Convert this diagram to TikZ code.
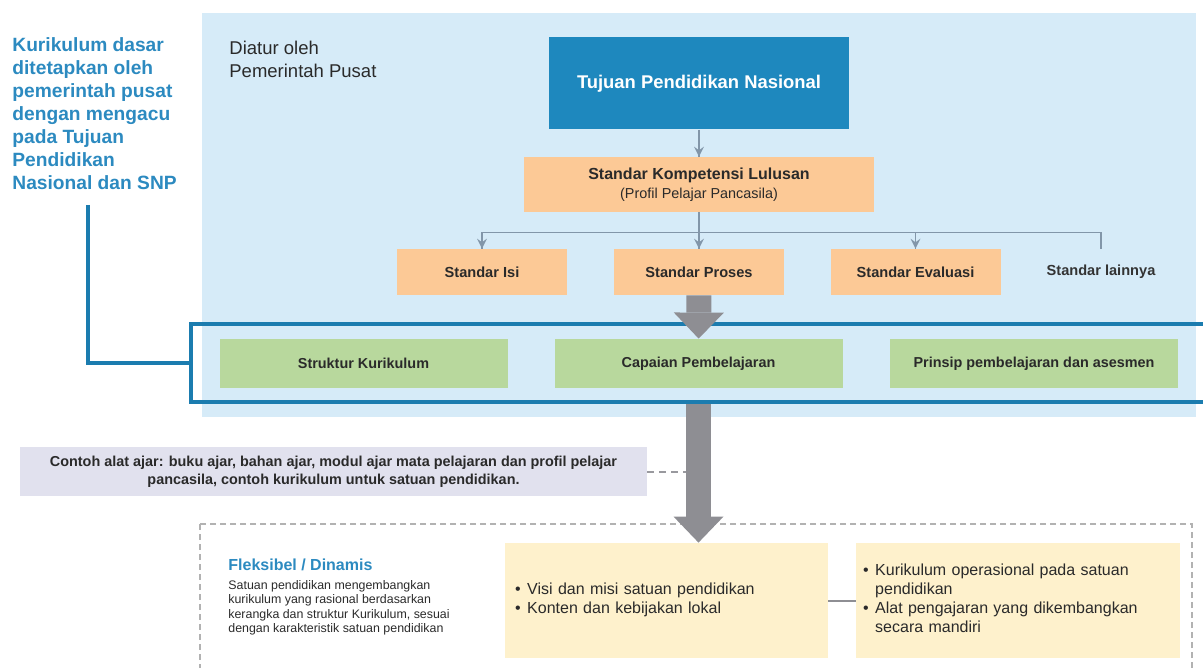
\documentclass[tikz,border=0pt]{standalone}
\usepackage{fontspec}
\setmainfont{Liberation Sans}
\usetikzlibrary{arrows.meta,decorations.markings}
\definecolor{langit}{HTML}{D6EBF8}
\definecolor{birutua}{HTML}{1E88BE}
\definecolor{bingkai}{HTML}{1B7CAF}
\definecolor{birujudul}{HTML}{2C8AC0}
\definecolor{oranye}{HTML}{FCC996}
\definecolor{hijau}{HTML}{B8D89D}
\definecolor{ungu}{HTML}{E1E1EE}
\definecolor{kuning}{HTML}{FEF1CC}
\definecolor{abu}{HTML}{8E8E93}
\definecolor{garis}{HTML}{8296A9}
\definecolor{tinta}{HTML}{2A2A2A}
\tikzset{->/.style = {decoration={markings, mark=at position 1 with {\arrow[scale=1.2]{stealth}}}, postaction={decorate}}}
\tikzset{standar/.style = {fill=oranye, text=tinta, font=\fontsize{7.3}{9}\selectfont\bfseries, minimum width=85pt, minimum height=23pt, inner sep=0}}
\tikzset{capaianbox/.style = {fill=hijau, text=tinta, font=\fontsize{7.2}{9}\selectfont\bfseries, minimum width=144pt, minimum height=24.5pt, inner sep=0}}
\tikzset{butirbox/.style = {fill=kuning, text=tinta, font=\fontsize{8}{9.5}\selectfont, minimum height=57.5pt, align=left}}
\tikzset{panah/.style = {draw=abu, line width=12.5pt, -{Triangle[width=25pt, length=13pt, line width=0pt]}}}
\tikzset{cabang/.style = {draw=garis, line width=0.8pt}}

\begin{document}
\begin{tikzpicture}[x=0.5pt, y=-0.5pt]
    \clip (0,0) rectangle (1203,668);
    \fill[langit] (202,13) rectangle (1196,417);
    \node[anchor=north west, align=left, inner sep=0, text=birujudul, font=\fontsize{9.6}{11.5}\selectfont\bfseries] (dasar) at (12,37)
        {Kurikulum dasar\\ditetapkan oleh\\pemerintah pusat\\dengan mengacu\\pada Tujuan\\Pendidikan\\Nasional dan SNP};
    \node[anchor=north west, align=left, inner sep=0, text=tinta, font=\fontsize{9.25}{11.5}\selectfont] (diatur) at (229,41)
        {Diatur oleh\\Pemerintah Pusat};
    \node[fill=birutua, text=white, font=\fontsize{9.2}{11}\selectfont\bfseries, minimum width=150pt, minimum height=46pt] (tujuan) at (699,83.5)
        {Tujuan Pendidikan Nasional};
    \node[fill=oranye, text=tinta, align=center, minimum width=175pt, minimum height=27.5pt, inner sep=0, font=\fontsize{8}{9.5}\selectfont\bfseries] (skl) at (699,184.5)
        {Standar Kompetensi Lulusan\\{\fontsize{7.2}{9.5}\selectfont\mdseries (Profil Pelajar Pancasila)}};
    \node[standar] (isi) at (482,272) {Standar Isi};
    \node[standar] (proses) at (699,272) {Standar Proses};
    \node[standar] (evaluasi) at (915.5,272) {Standar Evaluasi};
    \node[standar, fill=none, text=black!80] (lainnya) at (1101,272) {Standar lainnya};
    \draw[cabang, ->] (tujuan) -- (skl);
    \draw[cabang, ->] (skl) -- (proses);
    \draw[cabang, ->] (skl.south) ++(0,20) -| (isi.north);
    \draw[cabang, ->] (skl.south) ++(0,20) -| (evaluasi.north);
    \draw[cabang] (skl.south) ++(0,20) -| (lainnya.north);
    \node[draw=bingkai, line width=2pt, minimum width=512pt, minimum height=39pt, inner sep=0] (kerangka) at (703,363) {};
    \node[capaianbox] (struktur) at (363.5,363.5) {Struktur Kurikulum};
    \node[capaianbox] (capaian) at (698.5,363.5) {Capaian Pembelajaran};
    \node[capaianbox] (prinsip) at (1034,363.5) {Prinsip pembelajaran dan asesmen};
    \coordinate (ujung) at (88,205);
    \draw[draw=bingkai, line width=2pt] (ujung) |- (kerangka.west);
    \draw[panah] (proses) -- (capaian);
    \node[fill=ungu, text=tinta, align=center, minimum width=313.5pt, minimum height=24.5pt, inner sep=0, font=\fontsize{7.2}{9}\selectfont\bfseries] (contoh) at (333.5,471.5)
        {Contoh alat ajar: buku ajar, bahan ajar, modul ajar mata pelajaran dan profil pelajar\\pancasila, contoh kurikulum untuk satuan pendidikan.};
    \draw[draw=abu!90, line width=1pt, dash pattern=on 3.5pt off 2.5pt] (contoh) -- (contoh -| capaian);
    \draw[draw=black!30, line width=0.6pt, dash pattern=on 3pt off 2pt] (200,524) rectangle (1192,700);
    \node[anchor=west, inner sep=0, text=birujudul, font=\fontsize{8}{10}\selectfont\bfseries] (fleksibel) at (228,565) {Fleksibel / Dinamis};
    \node[anchor=north west, align=left, inner sep=0, text=tinta, font=\fontsize{6.2}{7.25}\selectfont] (satuan) at (228,580)
        {Satuan pendidikan mengembangkan\\kurikulum yang rasional berdasarkan\\kerangka dan struktur Kurikulum, sesuai\\dengan karakteristik satuan pendidikan};
    \node[butirbox, text width=151.5pt, inner xsep=5pt] (visi) at (666.5,600.5)
        {\begin{tabular}{@{}l@{\hspace{3.3pt}}l@{}}\textbullet & Visi dan misi satuan pendidikan\\ \textbullet & Konten dan kebijakan lokal\end{tabular}};
    \node[butirbox, text width=155pt, inner xsep=3.5pt] (operasional) at (1018,600.5)
        {\begin{tabular}{@{}l@{\hspace{3.3pt}}l@{}}\textbullet & Kurikulum operasional pada satuan\\ & pendidikan\\ \textbullet & Alat pengajaran yang dikembangkan\\ & secara mandiri\end{tabular}};
    \draw[draw=abu, line width=1pt] (visi) -- (operasional);
    \draw[panah] (kerangka.south -| capaian) -- (capaian |- visi.north);
\end{tikzpicture}
\end{document}
